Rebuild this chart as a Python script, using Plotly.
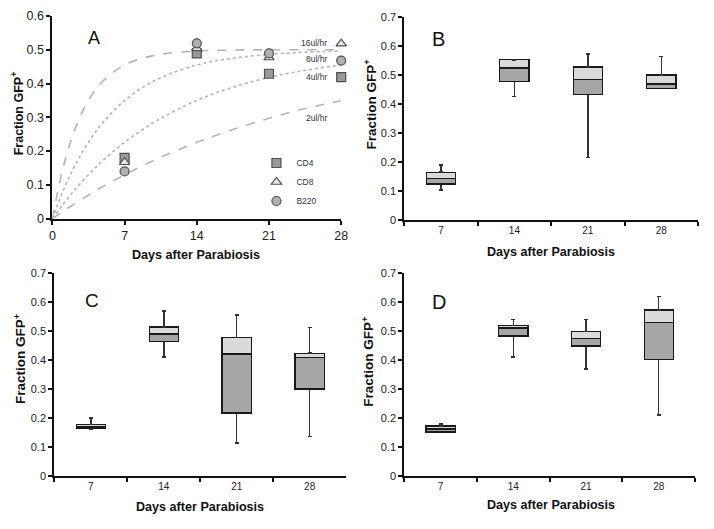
import plotly.graph_objects as go

# ---- Panel A: model curves ----
curve_days = [0, 1, 2, 3, 4, 5, 7, 10, 14, 17.5, 21, 24.5, 28]
rate_16 = [0, 0.146, 0.249, 0.322, 0.374, 0.41, 0.455, 0.484, 0.496, 0.499, 0.5, 0.5, 0.5]
rate_8 = [0, 0.079, 0.146, 0.202, 0.249, 0.288, 0.35, 0.41, 0.455, 0.475, 0.486, 0.493, 0.496]
rate_4 = [0, 0.041, 0.079, 0.114, 0.146, 0.175, 0.226, 0.288, 0.35, 0.389, 0.418, 0.439, 0.455]
rate_2 = [0, 0.021, 0.041, 0.06, 0.079, 0.097, 0.13, 0.175, 0.226, 0.264, 0.297, 0.326, 0.349]
rate_labels = ["16ul/hr", "8ul/hr", "4ul/hr", "2ul/hr"]
rate_label_y = [0.519, 0.472, 0.418, 0.297]

# ---- Panel A: measured points ----
days = [7, 14, 21, 28]
cd4 = [0.18, 0.489, 0.429, 0.419]
cd8 = [0.167, 0.504, 0.477, 0.518]
b220 = [0.14, 0.519, 0.489, 0.468]

# ---- Panels B, C, D: box summaries (min, q1, median, q3, max) ----
cats = ["7", "14", "21", "28"]
B = dict(mn=[0.102, 0.426, 0.215, 0.452], q1=[0.123, 0.477, 0.433, 0.454],
         md=[0.142, 0.524, 0.484, 0.468], q3=[0.164, 0.552, 0.527, 0.499],
         mx=[0.189, 0.552, 0.572, 0.563])
C = dict(mn=[0.162, 0.41, 0.114, 0.136], q1=[0.166, 0.465, 0.217, 0.300],
         md=[0.170, 0.490, 0.421, 0.408], q3=[0.178, 0.514, 0.479, 0.424],
         mx=[0.200, 0.569, 0.556, 0.513])
D = dict(mn=[0.150, 0.411, 0.370, 0.210], q1=[0.152, 0.483, 0.449, 0.403],
         md=[0.162, 0.511, 0.475, 0.531], q3=[0.173, 0.520, 0.499, 0.573],
         mx=[0.180, 0.541, 0.540, 0.619])

FONT = "Arial, Liberation Sans, sans-serif"
DARK = "#a6a6a6"
LIGHT = "#dadada"
EDGE = "#1a1a1a"
CURVE = "#b4b4b4"

fig = go.Figure()

# curves
for vals, dash in [(rate_16, "dash"), (rate_8, "dot"), (rate_4, "dot"), (rate_2, "dash")]:
    fig.add_trace(go.Scatter(x=curve_days, y=vals, mode="lines", line_shape="spline",
                             line=dict(color=CURVE, width=1.6, dash=dash),
                             showlegend=False, hoverinfo="skip", xaxis="x", yaxis="y"))

# points
for name, vals, sym, fill in [("CD4", cd4, "square", "#999999"),
                              ("CD8", cd8, "triangle-up", "#e6e6e6"),
                              ("B220", b220, "circle", "#b0b0b0")]:
    fig.add_trace(go.Scatter(x=days, y=vals, mode="markers", name=name, cliponaxis=False,
                             marker=dict(symbol=sym, size=9, color=fill,
                                         line=dict(color="#505050", width=1.2)),
                             xaxis="x", yaxis="y"))


def add_boxes(s, ax):
    xa, ya = "x" + ax, "y" + ax
    lower = [a - b for a, b in zip(s["q1"], s["mn"])]
    upper = [a - b for a, b in zip(s["mx"], s["q3"])]
    zeros = [0] * len(cats)
    # invisible base carrying the lower whisker
    fig.add_trace(go.Bar(x=cats, y=s["q1"], width=0.4,
                         marker=dict(color="rgba(0,0,0,0)", line=dict(width=0)),
                         error_y=dict(type="data", symmetric=False, array=zeros,
                                      arrayminus=lower, color="#333333",
                                      thickness=1.5, width=2),
                         showlegend=False, hoverinfo="skip", xaxis=xa, yaxis=ya))
    fig.add_trace(go.Bar(x=cats, y=[a - b for a, b in zip(s["md"], s["q1"])], width=0.4,
                         marker=dict(color=DARK, line=dict(color=EDGE, width=1.3)),
                         showlegend=False, xaxis=xa, yaxis=ya))
    fig.add_trace(go.Bar(x=cats, y=[a - b for a, b in zip(s["q3"], s["md"])], width=0.4,
                         marker=dict(color=LIGHT, line=dict(color=EDGE, width=1.3)),
                         error_y=dict(type="data", symmetric=False, array=upper,
                                      arrayminus=zeros, color="#333333",
                                      thickness=1.5, width=2),
                         showlegend=False, xaxis=xa, yaxis=ya))


add_boxes(B, "2")
add_boxes(C, "3")
add_boxes(D, "4")

# page body has an 8px margin; lay out in window pixels and shift
OFF = 8
W, H = 714 - 2 * OFF, 529 - 2 * OFF


def px(x):
    return (x - OFF) / W


def py(y):
    return 1 - (y - OFF) / H


axis_common = dict(showline=True, linecolor="#111111", linewidth=2, ticks="outside",
                   ticklen=4, tickwidth=2, tickcolor="#111111", showgrid=False,
                   zeroline=False, tickfont=dict(family=FONT, color="#222222"))

layout = dict(
    width=W, height=H, margin=dict(l=0, r=0, t=0, b=0),
    paper_bgcolor="white", plot_bgcolor="white", barmode="stack",
    font=dict(family=FONT, color="#111111"),
    xaxis=dict(axis_common, domain=[px(50), px(343)], range=[0, 28], tickvals=[0] + days,
               tickfont=dict(family=FONT, size=12.5, color="#222222"), anchor="y"),
    yaxis=dict(axis_common, domain=[py(218), py(10)], range=[0, 0.6], dtick=0.1,
               tickfont=dict(family=FONT, size=12.5, color="#222222"), anchor="x"),
    legend=dict(x=px(257), y=py(146), xanchor="left", yanchor="top", traceorder="normal",
                bgcolor="rgba(0,0,0,0)", font=dict(family=FONT, size=8.5, color="#333333"),
                tracegroupgap=0, itemwidth=30),
)

domains = {"2": ([407, 705], [219, 11]), "3": ([52, 348], [482, 274]), "4": ([407, 702], [482, 274])}
for ax, (xd, yd) in domains.items():
    layout["xaxis" + ax] = dict(axis_common, domain=[px(xd[0]), px(xd[1])], type="category",
                                range=[-0.5, 3.5], tickson="boundaries", anchor="y" + ax,
                                tickfont=dict(family=FONT, size=10, color="#222222"))
    layout["yaxis" + ax] = dict(axis_common, domain=[py(yd[0]), py(yd[1])], range=[0, 0.7],
                                dtick=0.1, anchor="x" + ax,
                                tickfont=dict(family=FONT, size=11, color="#222222"))

fig.update_layout(**layout)

ann = []
# rate labels
for t, yv in zip(rate_labels, rate_label_y):
    ann.append(dict(x=26.8, y=yv, xref="x", yref="y", text=t, showarrow=False,
                    xanchor="right", yanchor="middle",
                    font=dict(family=FONT, size=8.5, color="#333333")))

# panel letters
for t, (x, y, s) in {"A": (92, 33, 18), "B": (442, 34, 20), "C": (90, 302, 19), "D": (442, 303, 20)}.items():
    ann.append(dict(x=px(x), y=py(y), xref="paper", yref="paper", text=t, showarrow=False,
                    xanchor="center", yanchor="middle",
                    font=dict(family=FONT, size=s, color="#111111")))

# axis titles
for x, y in [(196, 255), (556, 252), (200, 514), (556, 512)]:
    ann.append(dict(x=px(x), y=py(y), xref="paper", yref="paper", showarrow=False,
                    xanchor="center", yanchor="middle",
                    text="<b>Days after Parabiosis</b>",
                    font=dict(family=FONT, size=12.6, color="#111111")))
for (x, y), s in zip([(15, 110), (372, 100), (17, 361), (370, 364)], [12.5, 13.5, 13.5, 13.5]):
    ann.append(dict(x=px(x), y=py(y), xref="paper", yref="paper", showarrow=False,
                    xanchor="center", yanchor="middle",
                    textangle=-90, text="<b>Fraction GFP<sup>+</sup></b>",
                    font=dict(family=FONT, size=s, color="#111111")))

fig.update_layout(annotations=ann)

fig.write_html("out.html")
